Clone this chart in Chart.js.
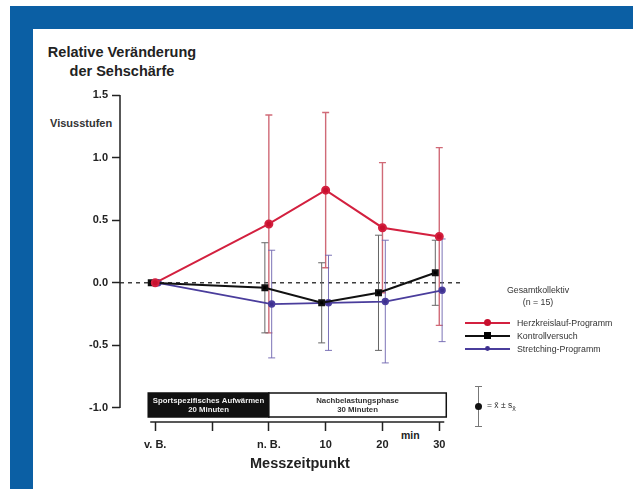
<!DOCTYPE html>
<html lang="de">
<head>
<meta charset="UTF-8" />
<title>Relative Veränderung der Sehschärfe</title>
<style>
  body { margin: 0; background: #fff; font-family: 'Liberation Sans', Arial, sans-serif; }
  .page { position: relative; width: 633px; height: 489px; overflow: hidden; }
  .frame-top { position: absolute; left: 10px; top: 6px; right: 0; height: 23px; background: #0b5fa4; }
  .frame-left { position: absolute; left: 10px; top: 6px; width: 23px; bottom: 0; background: #0b5fa4; }
  #chartBox { position: absolute; left: 0; top: 0; width: 633px; height: 489px; }
  .title { position: absolute; left: 22px; top: 43px; width: 200px; text-align: center;
           font-weight: bold; font-size: 14.5px; line-height: 19px; color: #222; }
  .visus { position: absolute; left: 50px; top: 117px; font-size: 11px; font-weight: bold; color: #333; }
  .minlbl { position: absolute; left: 401px; top: 429px; font-size: 10.5px; font-weight: bold; color: #222; }
  .xtitle { position: absolute; left: 200px; width: 200px; top: 455px; text-align: center;
            font-size: 14.5px; font-weight: bold; color: #222; }
  .legend { position: absolute; left: 462px; top: 284px; font-size: 8.8px; color: #333; }
  .legend .head { width: 152px; text-align: center; line-height: 12px; }
  .legend .row { display: flex; align-items: center; height: 13px; }
  .legend .sample { position: relative; width: 48px; height: 13px; margin-right: 7px; }
  .legend .sample .ln { position: absolute; left: 3px; right: 0; top: 6px; height: 2px; }
  .legend .sample .mk { position: absolute; left: 22px; top: 3px; width: 7px; height: 7px; }
  .errlegend { position: absolute; left: 472px; top: 386px; width: 14px; height: 41px; }
  .errlegend .v { position: absolute; left: 6px; top: 0; width: 1px; height: 40px; background: #777; }
  .errlegend .c1, .errlegend .c2 { position: absolute; left: 3px; width: 7px; height: 1px; background: #777; }
  .errlegend .c1 { top: 0; } .errlegend .c2 { top: 40px; }
  .errlegend .dot { position: absolute; left: 3px; top: 17px; width: 7px; height: 7px; border-radius: 50%; background: #111; }
  .errtext { position: absolute; left: 487px; top: 400px; font-size: 8.5px; color: #333; }
</style>
</head>
<body>
<div class="page">
  <div class="frame-top"></div>
  <div class="frame-left"></div>
  <div class="title">Relative Veränderung<br>der Sehschärfe</div>
  <div class="visus">Visusstufen</div>
  <div class="minlbl">min</div>
  <div id="chartBox"><canvas id="visusChart"></canvas></div>
  <div class="xtitle">Messzeitpunkt</div>
  <div class="legend">
    <div class="head">Gesamtkollektiv<br>(n = 15)</div>
    <div style="height:8px"></div>
    <div class="row"><span class="sample"><span class="ln" style="background:#d3203f"></span><span class="mk" style="background:#c8102e;border-radius:50%"></span></span>Herzkreislauf-Programm</div>
    <div class="row"><span class="sample"><span class="ln" style="background:#111"></span><span class="mk" style="background:#000"></span></span>Kontrollversuch</div>
    <div class="row"><span class="sample"><span class="ln" style="background:#4a3d9c"></span><span class="mk" style="background:#3d2f8f;border-radius:50%;transform:scale(0.7)"></span></span>Stretching-Programm</div>
  </div>
  <div class="errlegend"><div class="v"></div><div class="c1"></div><div class="c2"></div><div class="dot"></div></div>
  <div class="errtext">= x̄ ± s<sub>x̄</sub></div>
</div>

<script src="https://cdn.jsdelivr.net/npm/chart.js"></script>
<script>
  // Messzeitpunkte in Minuten (v. B. = 20 min vor Belastungsende)
  const tickMinutes = [-20, -10, 0, 10, 20, 30];
  const tickLabels = ['v. B.', '', 'n. B.', '10', '20', '30'];
  const measureMinutes = [-20, 0, 10, 20, 30];
  const yTicks = [-1.0, -0.5, 0.0, 0.5, 1.0, 1.5];

  // Mittelwerte und Standardabweichungen (Visusstufen)
  const herzMean = [0, 0.47, 0.74, 0.44, 0.37];
  const herzSD = [0, 0.87, 0.62, 0.52, 0.71];
  const kontrollMean = [0, -0.04, -0.16, -0.08, 0.08];
  const kontrollSD = [0, 0.36, 0.32, 0.46, 0.26];
  const stretchMean = [0, -0.17, -0.16, -0.15, -0.06];
  const stretchSD = [0, 0.43, 0.38, 0.49, 0.41];

  // Phasen unter dem Diagramm
  const phases = [
    { from: -20, to: 0, lines: ['Sportspezifisches Aufwärmen', '20 Minuten'], dark: true },
    { from: 0, to: 30, lines: ['Nachbelastungsphase', '30 Minuten'], dark: false },
  ];

  const points = (means, dodge) => means.map((v, i) => ({ x: measureMinutes[i] + dodge, y: v }));

  // Fehlerbalken, Achsenlinien, Nulllinie, Phasenbalken
  const extras = {
    id: 'extras',
    beforeDatasetsDraw(chart) {
      const { ctx, chartArea, scales: { x, y } } = chart;
      ctx.save();
      // Nulllinie
      ctx.strokeStyle = '#222';
      ctx.lineWidth = 1.3;
      ctx.setLineDash([4, 4]);
      ctx.beginPath();
      ctx.moveTo(chartArea.left, y.getPixelForValue(0));
      ctx.lineTo(chartArea.right, y.getPixelForValue(0));
      ctx.stroke();
      ctx.setLineDash([]);

      // Fehlerbalken
      chart.data.datasets.forEach((ds) => {
        ctx.strokeStyle = ds.errColor;
        ctx.lineWidth = ds.errWidth;
        ds.data.forEach((p, j) => {
          const sd = ds.sd[j];
          if (!sd) return;
          const px = x.getPixelForValue(p.x);
          const top = y.getPixelForValue(p.y + sd);
          const bot = y.getPixelForValue(p.y - sd);
          ctx.beginPath();
          ctx.moveTo(px, top); ctx.lineTo(px, bot);
          ctx.moveTo(px - 3.5, top); ctx.lineTo(px + 3.5, top);
          ctx.moveTo(px - 3.5, bot); ctx.lineTo(px + 3.5, bot);
          ctx.stroke();
        });
      });

      // Achsenlinien
      ctx.strokeStyle = '#222';
      ctx.lineWidth = 1.5;
      ctx.beginPath();
      ctx.moveTo(chartArea.left, y.getPixelForValue(yTicks[yTicks.length - 1]));
      ctx.lineTo(chartArea.left, y.getPixelForValue(yTicks[0]));
      ctx.moveTo(x.getPixelForValue(tickMinutes[0]) - 5, chartArea.bottom);
      ctx.lineTo(x.getPixelForValue(tickMinutes[tickMinutes.length - 1]) + 5, chartArea.bottom);
      ctx.stroke();

      // Phasenbalken
      const boxTop = chartArea.bottom - 29, boxH = 24;
      phases.forEach((ph, i) => {
        const l = x.getPixelForValue(ph.from) - (i === 0 ? 7 : 0);
        const r = x.getPixelForValue(ph.to) + (i === phases.length - 1 ? 7 : 0);
        ctx.fillStyle = ph.dark ? '#111' : '#fff';
        ctx.fillRect(l, boxTop, r - l, boxH);
        ctx.strokeStyle = '#111';
        ctx.lineWidth = 1.5;
        ctx.strokeRect(l, boxTop, r - l, boxH);
        ctx.fillStyle = ph.dark ? '#eee' : '#333';
        ctx.font = 'bold 7.8px "Liberation Sans", Arial, sans-serif';
        ctx.textAlign = 'center';
        ctx.textBaseline = 'middle';
        ctx.fillText(ph.lines[0], (l + r) / 2, boxTop + 8);
        ctx.fillText(ph.lines[1], (l + r) / 2, boxTop + 17);
      });
      ctx.restore();
    }
  };

  const ctx = document.getElementById('visusChart').getContext('2d');
  new Chart(ctx, {
    type: 'line',
    data: {
      datasets: [
        {
          label: 'Herzkreislauf-Programm',
          data: points(herzMean, 0),
          sd: herzSD, errColor: 'rgba(200,80,95,0.85)', errWidth: 1.4,
          borderColor: '#d3203f', backgroundColor: '#c8102e',
          borderWidth: 2, pointRadius: 3.5, pointStyle: 'circle',
        },
        {
          label: 'Kontrollversuch',
          data: points(kontrollMean, -0.7),
          sd: kontrollSD, errColor: '#666', errWidth: 1,
          borderColor: '#111', backgroundColor: '#000',
          borderWidth: 2, pointRadius: 3.5, pointStyle: 'rect',
        },
        {
          label: 'Stretching-Programm',
          data: points(stretchMean, 0.5),
          sd: stretchSD, errColor: 'rgba(110,100,175,0.9)', errWidth: 1,
          borderColor: '#4a3d9c', backgroundColor: '#3d2f8f',
          borderWidth: 1.8, pointRadius: 2.8, pointStyle: 'circle',
        },
      ]
    },
    options: {
      responsive: true,
      maintainAspectRatio: false,
      animation: false,
      layout: { padding: { left: 0, top: 95, right: 171, bottom: 10 } },
      plugins: { legend: { display: false }, tooltip: { enabled: false } },
      scales: {
        x: {
          type: 'linear',
          min: -26.2,
          max: 34,
          afterBuildTicks: (s) => { s.ticks = tickMinutes.map(v => ({ value: v })); },
          afterFit: (s) => { s.height = 489 - 10 - 422; },
          ticks: {
            autoSkip: false, maxRotation: 0, padding: 7, color: '#222',
            font: { family: '"Liberation Sans", Arial, sans-serif', size: 11, weight: 'bold' },
            callback: (v) => tickLabels[tickMinutes.indexOf(v)],
          },
          grid: { drawOnChartArea: false, tickLength: 9, tickWidth: 1.5, tickColor: '#222' },
          border: { display: false },
        },
        y: {
          min: -1.112,
          max: 1.5,
          afterBuildTicks: (s) => { s.ticks = yTicks.map(v => ({ value: v })); },
          afterFit: (s) => { s.width = 120; },
          ticks: {
            padding: 4, color: '#222',
            font: { family: '"Liberation Sans", Arial, sans-serif', size: 11, weight: 'bold' },
            callback: (v) => v.toFixed(1),
          },
          grid: { drawOnChartArea: false, tickLength: 8, tickWidth: 1.5, tickColor: '#222' },
          border: { display: false },
        },
      },
    },
    plugins: [extras],
  });
</script>
</body>
</html>
